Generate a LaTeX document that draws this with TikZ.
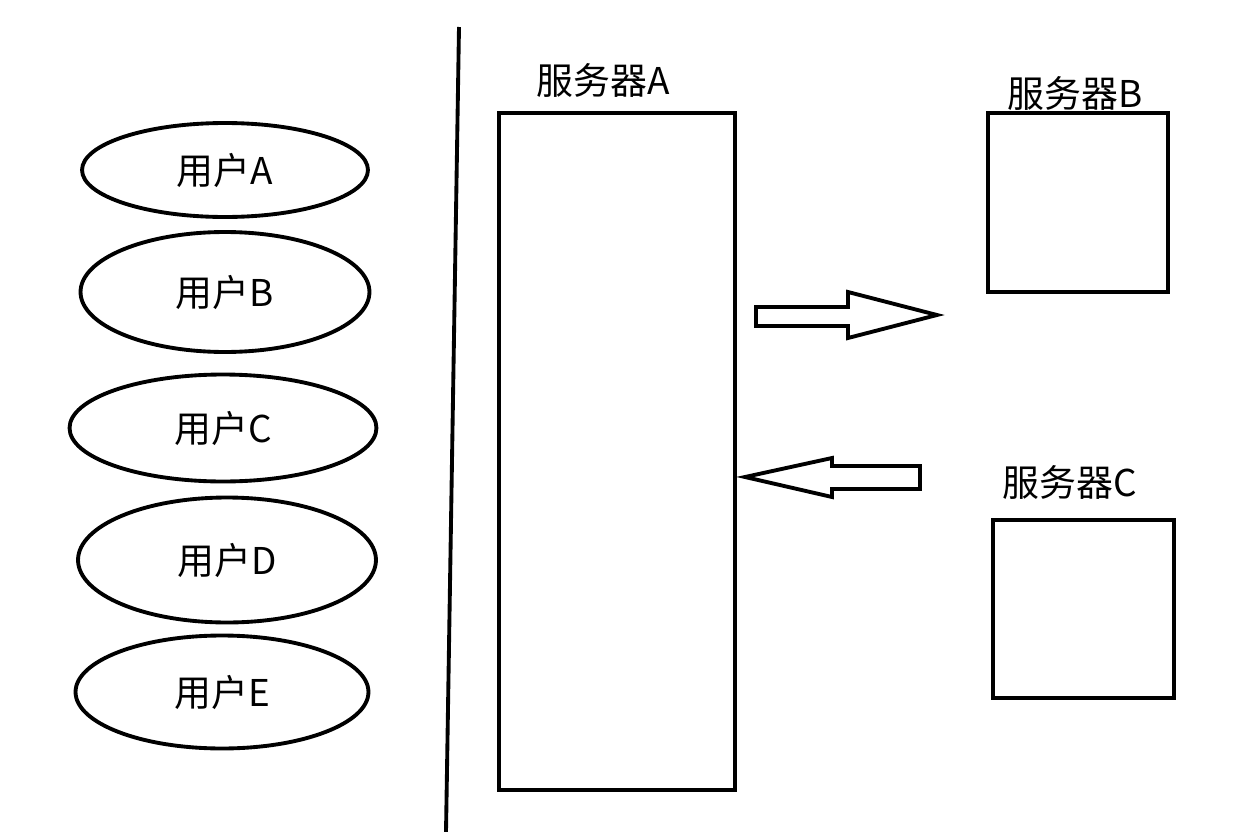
\documentclass[tikz,border=0pt]{standalone}
\usepackage{fontspec}
\setmainfont{Noto Sans CJK SC}
\usetikzlibrary{shapes.geometric}

\tikzset{
  user/.style={ellipse,draw,line width=2.2pt,inner sep=0pt,font=\fontsize{21}{24}\selectfont},
  server/.style={rectangle,draw,line width=1.8pt,inner sep=0pt},
  srvlabel/.style={font=\fontsize{21}{24}\selectfont},
  bigarrow/.style={draw,line width=2.2pt,line join=miter,fill=white}
}

\begin{document}
\begin{tikzpicture}[x=0.02cm,y=-0.02cm]

      \useasboundingbox (0,0) rectangle (1255,832);

      % users
      \node[user,minimum width=5.72cm,minimum height=1.88cm] (uA) at (225,170) {用户A};
      \node[user,minimum width=5.78cm,minimum height=2.40cm] (uB) at (225,292) {用户B};
      \node[user,minimum width=6.14cm,minimum height=2.14cm] (uC) at (223,428) {用户C};
      \node[user,minimum width=5.96cm,minimum height=2.50cm] (uD) at (227,560) {用户D};
      \node[user,minimum width=5.86cm,minimum height=2.26cm] (uE) at (222,692) {用户E};

      % divider
      \coordinate (top) at (459,27);
      \coordinate (bot) at (446,832);
      \draw[line width=2.2pt] (top) -- (bot);

      % servers
      \node[server,minimum width=4.72cm,minimum height=13.54cm] (sA) at (617,451.5) {};
      \node[server,minimum width=3.60cm,minimum height=3.58cm] (sB) at (1078,202.5) {};
      \node[server,minimum width=3.62cm,minimum height=3.56cm] (sC) at (1083.5,609) {};

      \node[srvlabel] (lA) at (603,80) {服务器A};
      \node[srvlabel] (lB) at (1075,93) {服务器B};
      \node[srvlabel] (lC) at (1070,482) {服务器C};

      % block arrows
      \draw[bigarrow] (756,307) -- (848,307) -- (848,292) -- (937,315)
        -- (848,338) -- (848,326) -- (756,326) -- cycle;
      \draw[bigarrow] (920,466) -- (832,466) -- (832,458) -- (745,477)
        -- (832,497) -- (832,489) -- (920,489) -- cycle;

    \end{tikzpicture}
\end{document}
